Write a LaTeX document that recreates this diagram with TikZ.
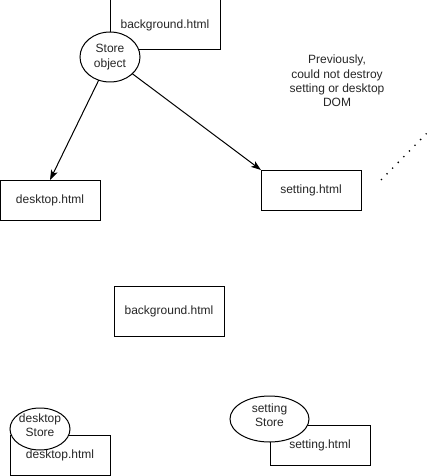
\documentclass[tikz,border=0pt]{standalone}
\usepackage{fontspec}
\setmainfont{Liberation Sans}
\usetikzlibrary{arrows.meta,shapes.geometric}
\begin{document}
\begin{tikzpicture}[x=1pt,y=-1pt,
  every node/.style={font=\fontsize{12}{14.4}\selectfont, inner sep=0pt, outer sep=0pt, text=black!85},
  pagebox/.style={draw, fill=white, line width=1pt, rectangle, align=center},
  storebox/.style={draw, fill=white, line width=1pt, ellipse, align=center},
  link/.style={line width=1pt, -{Stealth[length=10pt,width=7pt,inset=2.5pt]}},
  dotline/.style={line width=1.3pt, dash pattern=on 1.3pt off 6.7pt}
]
\useasboundingbox (0,0) rectangle (433,476);

% before: one shared store in the background page
\node[pagebox, minimum width=110pt, minimum height=50pt] (bgtop) at (165,25) {background.html};
\node[storebox, minimum width=60pt, minimum height=50pt] (so) at (110,57) {Store\\object};
\node[pagebox, minimum width=100pt, minimum height=40pt] (dt) at (50,200) {desktop.html};
\node[pagebox, minimum width=100pt, minimum height=40pt] (st) at (311,190) {setting.html};
\draw[link] (so) -- (dt.north);
\draw[link] (so) -- (st.north west);

\node[align=center] (note) at (337,81) {Previously,\\could not destroy\\setting or desktop\\DOM};

\coordinate (d1) at (381,180);
\coordinate (d2) at (426.5,133.5);
\draw[dotline] (d1) -- (d2);

% after: each page keeps its own store
\node[pagebox, minimum width=110pt, minimum height=50pt] (bgmid) at (169,311) {background.html};

\node[pagebox, minimum width=100pt, minimum height=40pt] (dtb) at (60,455) {desktop.html};
\node[storebox, minimum width=60pt, minimum height=42pt] (dsb) at (40,429) {};
\node[align=center] (dsbtext) at ([yshift=3.5pt]dsb.center) {desktop\\Store};

\node[pagebox, minimum width=100pt, minimum height=40pt] (stb) at (320,445) {setting.html};
\node[storebox, minimum width=79pt, minimum height=46pt] (ssb) at (269.5,419) {};
\node[align=center] (ssbtext) at ([yshift=3.5pt]ssb.center) {setting\\Store};
\end{tikzpicture}
\end{document}
